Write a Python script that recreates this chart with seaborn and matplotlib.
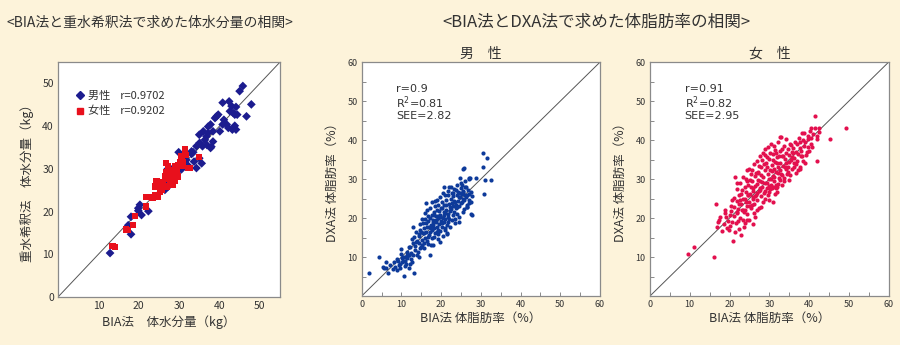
import numpy as np
import pandas as pd
import matplotlib
matplotlib.use("Agg")
import matplotlib.pyplot as plt
import seaborn as sns
from matplotlib.lines import Line2D
from matplotlib.ticker import MultipleLocator

# ---------------- data ----------------
# Panel 1: BIA vs heavy-water dilution, total body water (kg)
water_male = [
    (12.9, 10.3), (18.1, 14.7), (18.1, 18.8), (17.4, 16.8), (19.9, 20.2), (20.3, 21.6),
    (20.7, 19.2), (22.4, 20.1), (19.9, 20.8), (29.9, 33.9), (27.1, 29.9), (30.6, 31.3),
    (33.1, 33.5), (33.5, 33.9), (34.3, 30.2), (35.0, 38.0), (35.6, 31.3), (35.8, 35.3),
    (36.4, 36.8), (37.2, 38.4), (37.8, 34.9), (38.4, 36.4), (38.9, 41.9), (39.7, 42.7),
    (38.4, 38.8), (40.8, 45.5), (41.8, 40.4), (42.2, 39.6), (42.4, 45.8), (43.0, 44.7),
    (43.2, 39.2), (43.8, 42.7), (44.1, 39.2), (44.4, 42.7), (45.0, 48.2), (45.8, 49.4),
    (46.7, 42.3), (47.9, 45.1), (40.8, 40.4), (41.1, 41.5), (40.1, 38.8), (44.1, 44.5),
    (37.2, 39.9), (36.0, 38.8), (36.8, 37.6), (35.1, 36.1), (34.3, 35.3), (35.0, 32.5),
    (33.7, 31.7), (32.3, 30.7), (30.6, 29.9), (29.4, 29.0), (28.5, 27.4), (27.3, 25.9),
    (26.5, 25.1), (26.9, 26.8), (27.7, 30.2), (31.8, 32.1), (33.1, 34.1), (37.8, 40.4),
    (39.3, 42.3), (42.6, 43.5), (43.4, 43.1), (43.8, 40.1), (36.9, 35.6), (38.0, 35.2),
]
water_female = [
    (13.5, 11.9), (14.1, 11.8), (16.8, 15.8), (17.4, 15.7), (18.6, 16.8), (19.1, 19.0),
    (21.8, 21.2), (22.4, 23.5), (23.2, 23.5), (24.0, 23.9), (24.8, 23.5), (24.0, 25.9),
    (25.1, 26.6), (25.7, 25.1), (26.1, 27.0), (26.5, 28.2), (26.9, 29.2), (27.3, 27.6),
    (26.7, 31.3), (27.7, 28.6), (28.1, 29.8), (28.5, 28.2), (29.0, 30.6), (29.4, 29.4),
    (29.8, 31.0), (30.2, 31.5), (30.6, 30.6), (31.0, 31.7), (31.4, 34.6), (31.6, 33.3),
    (32.3, 30.2), (32.7, 30.2), (34.9, 32.8), (25.2, 24.7), (24.4, 27.1), (28.5, 26.3),
    (27.7, 26.3), (29.8, 28.2), (30.6, 32.9), (29.0, 27.1), (21.9, 23.5), (26.9, 25.9),
    (26.1, 25.9), (28.1, 27.4), (27.3, 30.6), (23.4, 23.1), (25.5, 26.2), (28.9, 29.6),
]
water_r_male = "0.9702"
water_r_female = "0.9202"

# Panel 2: BIA vs DXA body fat (%), men
fat_male = [
    (1.8, 5.9), (4.4, 10.1), (5.3, 7.5), (5.5, 7.1), (6.1, 8.6), (6.1, 7.2), (6.6, 6.0),
    (8.2, 8.6), (8.4, 7.5), (8.8, 6.7), (9.2, 9.0), (9.5, 7.9), (9.7, 7.3), (9.8, 12.0),
    (10.1, 9.7), (10.3, 9.1), (10.5, 9.9), (10.7, 5.1), (10.9, 9.1), (11.2, 8.2), (11.3, 9.7),
    (11.8, 7.3), (11.9, 10.5), (12.2, 12.6), (12.4, 11.1), (12.6, 8.8), (13.0, 17.6),
    (13.2, 6.0), (13.4, 11.8), (13.7, 13.9), (13.9, 10.5), (14.3, 15.4), (14.5, 9.9),
    (14.7, 16.9), (14.9, 12.6), (15.1, 14.4), (15.4, 18.8), (15.5, 16.2), (15.7, 13.5),
    (16.0, 19.7), (16.2, 23.9), (16.4, 17.8), (16.6, 15.2), (16.8, 20.5), (17.1, 16.5),
    (17.2, 10.5), (17.4, 13.1), (17.6, 24.2), (17.9, 18.2), (18.1, 20.8), (18.2, 15.2),
    (18.5, 24.4), (18.7, 19.4), (18.9, 22.1), (19.1, 16.9), (19.3, 23.3), (19.6, 13.9),
    (19.7, 20.3), (20.2, 18.6), (20.4, 26.3), (20.6, 28.0), (20.8, 21.6), (21.0, 16.9),
    (21.3, 23.3), (21.4, 16.1), (21.6, 20.3), (21.8, 25.9), (22.1, 28.0), (22.3, 22.9),
    (22.7, 26.5), (22.9, 20.8), (23.3, 24.4), (23.5, 19.7), (23.8, 27.2), (24.1, 22.9),
    (24.4, 25.3), (24.6, 19.1), (24.8, 30.2), (25.0, 29.1), (25.2, 24.2), (25.5, 26.8),
    (25.6, 32.7), (25.8, 22.2), (26.1, 28.0), (26.3, 25.5), (26.5, 23.3), (26.9, 30.2),
    (27.1, 26.2), (27.3, 30.3), (27.4, 24.2), (27.7, 20.8), (30.5, 36.8), (31.6, 35.5),
    (30.5, 33.2), (25.8, 32.9), (31.1, 29.7), (32.5, 29.7), (30.8, 26.1), (27.6, 21.0),
    (28.8, 30.2), (26.9, 29.9),
    (14.0, 14.2), (14.5, 15.8), (15.0, 16.5), (15.2, 13.0), (15.6, 17.4), (15.9, 15.0),
    (16.1, 18.6), (16.3, 16.4), (16.5, 14.1), (16.7, 19.3), (16.9, 17.8), (17.0, 15.6),
    (17.3, 20.1), (17.5, 18.3), (17.7, 16.9), (17.8, 14.9), (18.0, 19.6), (18.2, 17.4),
    (18.3, 21.5), (18.5, 16.2), (18.6, 18.9), (18.8, 20.5), (19.0, 17.7), (19.1, 15.8),
    (19.2, 19.9), (19.4, 21.9), (19.5, 18.4), (19.7, 16.7), (19.8, 20.8), (20.0, 19.3),
    (20.1, 22.6), (20.3, 17.6), (20.4, 20.1), (20.6, 23.4), (20.7, 18.9), (20.9, 21.2),
    (21.0, 19.7), (21.2, 24.6), (21.3, 22.0), (21.5, 18.2), (21.7, 21.1), (21.9, 23.7),
    (22.0, 19.8), (22.2, 21.9), (22.4, 24.9), (22.6, 22.4), (22.8, 19.4), (23.0, 23.0),
    (23.1, 25.6), (23.3, 21.5), (23.5, 24.0), (23.7, 22.7), (23.9, 25.9), (24.0, 21.0),
    (24.2, 24.4), (24.3, 26.8), (24.5, 23.2), (24.7, 25.5), (24.9, 27.6), (25.1, 23.8),
    (25.3, 26.2), (25.4, 25.0), (25.6, 27.0), (25.8, 24.7), (26.0, 26.0), (26.2, 27.9),
    (26.4, 22.8), (26.6, 25.8), (26.8, 27.2), (27.0, 23.9), (13.5, 12.9), (12.8, 13.6),
    (13.2, 15.2), (12.0, 10.4), (11.5, 11.4), (11.0, 9.9), (10.2, 8.6), (9.6, 8.2),
    (9.0, 9.6), (8.0, 7.0), (7.2, 7.9), (10.8, 7.8), (12.5, 9.6), (14.2, 11.4),
    (14.8, 18.5), (15.3, 19.8), (16.0, 21.3), (17.2, 22.6), (18.4, 23.0), (19.0, 24.7),
    (19.6, 25.3), (20.2, 24.0), (21.0, 26.0), (21.8, 27.0), (22.5, 28.0), (23.2, 27.4),
    (24.0, 28.6), (14.6, 12.2), (15.8, 12.3), (16.8, 13.4), (18.0, 13.0), (19.3, 14.6),
    (20.5, 15.3), (21.4, 16.0), (22.3, 17.6), (23.5, 18.6), (24.6, 20.3), (25.6, 21.5),
    (26.6, 22.8), (27.5, 26.8), (27.8, 25.6), (26.0, 29.6), (25.2, 28.4), (13.6, 16.3),
    (12.6, 14.7), (11.8, 12.5), (16.4, 22.1), (17.6, 20.9), (19.9, 22.5), (22.9, 26.3),
    (24.8, 26.4), (20.9, 17.4), (18.9, 16.5), (17.4, 17.5), (15.7, 16.1), (14.4, 13.5),
    (13.0, 10.5), (12.2, 8.3), (11.4, 10.6), (9.9, 10.8), (21.6, 19.0), (22.7, 23.8),
    (23.8, 23.4), (26.9, 24.6), (17.9, 19.0), (19.2, 20.4), (20.8, 20.9),
]
fat_male_stats = ["r=0.9", "R$^2$=0.81", "SEE=2.82"]

# Panel 3: BIA vs DXA body fat (%), women
fat_female = [
    (9.6, 10.9), (11.1, 12.6), (16.1, 10.1), (49.3, 43.2), (21.8, 28.9), (42.6, 43.0),
    (39.9, 37.2), (37.7, 32.7), (40.4, 43.0), (17.2, 19.1), (30.8, 24.0),
    (41.5, 46.2), (16.5, 23.5), (20.9, 14.2), (22.8, 15.6), (25.8, 18.4), (32.7, 40.7),
    (34.2, 40.2), (38.1, 41.7), (42.1, 40.2), (45.3, 40.4), (41.9, 34.6), (37.3, 32.3),
    (30.6, 27.6), (31.9, 27.9), (21.4, 30.6), (20.5, 24.6), (18.9, 22.1), (17.6, 20.3),
    (16.8, 17.8), (19.3, 17.4), (23.5, 22.1), (26.0, 25.0), (28.1, 34.9), (28.9, 36.2),
    (31.4, 37.4), (35.2, 39.1), (36.0, 36.6), (39.8, 38.3), (39.0, 34.0), (34.0, 33.2),
    (32.3, 31.5), (29.3, 28.9), (27.7, 27.2), (24.7, 25.9), (22.6, 24.6), (21.8, 21.2),
    (24.3, 19.5), (26.8, 22.1), (29.8, 24.6), (27.2, 31.5), (25.1, 29.7), (24.3, 32.3),
    (20.0, 20.8), (20.6, 19.0), (21.2, 22.9), (21.5, 18.6), (22.0, 21.5), (22.3, 25.8),
    (22.7, 20.1), (23.0, 23.6), (23.2, 27.2), (23.5, 19.6), (23.8, 24.8), (24.0, 22.0),
    (24.2, 26.6), (24.5, 21.0), (24.7, 28.4), (25.0, 24.0), (25.2, 26.2), (25.4, 22.6),
    (25.6, 29.5), (25.8, 25.4), (26.0, 27.6), (26.2, 23.6), (26.4, 30.7), (26.6, 26.0),
    (26.8, 28.8), (27.0, 24.5), (27.2, 31.8), (27.4, 27.0), (27.6, 29.6), (27.8, 25.6),
    (28.0, 33.0), (28.2, 28.0), (28.4, 30.6), (28.6, 26.4), (28.8, 32.2), (29.0, 29.0),
    (29.2, 34.0), (29.4, 27.6), (29.6, 31.2), (29.8, 29.9), (30.0, 35.2), (30.2, 32.4),
    (30.4, 28.6), (30.6, 33.6), (30.8, 30.8), (31.0, 36.3), (31.2, 29.4), (31.4, 34.4),
    (31.6, 31.8), (31.8, 27.8), (32.0, 35.6), (32.2, 33.0), (32.4, 30.2), (32.6, 37.2),
    (32.8, 34.2), (33.0, 31.4), (33.2, 36.0), (33.4, 33.4), (33.6, 38.4), (33.8, 29.6),
    (34.0, 35.2), (34.3, 32.6), (34.6, 37.6), (34.9, 34.4), (35.2, 31.0), (35.5, 38.8),
    (35.8, 35.6), (36.1, 33.0), (36.4, 39.6), (36.7, 37.0), (37.0, 34.6), (37.4, 40.6),
    (37.8, 38.0), (38.2, 35.8), (38.6, 41.8), (39.0, 39.4), (39.4, 37.0), (39.8, 41.0),
    (40.2, 42.2), (40.6, 39.0), (41.0, 41.6), (41.5, 43.2), (42.0, 41.0), (42.6, 42.0),
    (37.6, 33.2), (36.6, 31.6), (35.0, 29.8), (33.2, 28.4), (31.5, 26.2), (30.0, 26.8),
    (28.5, 24.2), (27.3, 22.6), (26.1, 21.2), (24.9, 19.4), (23.6, 17.8), (22.4, 17.2),
    (21.4, 16.4), (19.8, 17.0), (18.6, 18.5), (19.0, 20.2), (18.2, 16.6), (17.4, 19.4),
    (20.4, 23.0), (21.0, 25.2), (21.8, 27.4), (22.6, 28.9), (23.4, 30.4), (24.1, 30.0),
    (24.8, 32.6), (25.5, 31.4), (26.2, 33.8), (26.9, 34.6), (27.6, 35.8), (28.3, 36.8),
    (29.0, 37.8), (29.7, 38.2), (30.5, 39.0), (31.3, 38.6), (32.1, 39.6), (32.9, 40.8),
    (27.9, 31.0), (28.7, 33.8), (29.5, 33.0), (30.3, 30.0), (31.1, 32.6), (31.9, 34.0),
    (32.7, 32.2), (33.5, 35.8), (34.2, 36.8), (35.0, 36.2), (35.7, 37.0), (36.3, 35.4),
    (37.1, 36.4), (38.0, 37.2), (38.8, 38.6), (39.6, 40.2), (40.4, 40.6), (26.5, 28.3),
    (25.9, 27.0), (25.3, 28.0), (24.6, 26.0), (24.1, 24.0), (23.7, 21.6), (23.1, 22.0),
    (22.5, 23.6), (21.9, 24.4), (21.1, 20.6), (20.3, 21.9), (19.6, 19.2), (18.9, 21.2),
    (27.1, 29.8), (27.7, 27.8), (28.9, 27.0), (29.9, 28.2), (30.9, 35.0), (31.7, 36.6),
    (32.5, 36.0), (33.3, 37.6), (34.1, 34.0), (34.8, 33.0), (35.4, 34.8), (36.0, 38.0),
    (36.9, 39.0), (37.7, 39.4), (38.5, 40.0), (26.7, 31.6), (25.7, 32.2), (24.5, 29.4),
    (23.9, 28.0), (22.9, 26.2), (22.1, 22.4), (29.3, 35.6), (30.1, 36.8), (30.7, 32.0),
    (31.3, 30.6), (32.3, 28.8), (33.1, 31.0), (28.1, 29.2), (27.5, 33.4), (26.3, 25.6),
    (25.1, 23.0), (24.3, 23.2), (23.3, 25.0),
    (28.8, 25.0), (30.2, 27.4), (31.6, 28.6), (32.8, 29.8), (34.4, 31.2), (35.6, 32.6),
    (36.8, 33.8), (38.4, 34.6), (33.6, 30.2), (29.6, 26.0), (27.0, 26.4), (25.6, 23.4),
    (31.0, 28.0), (34.8, 31.8), (36.2, 34.2), (37.9, 36.0), (39.2, 36.2), (40.8, 38.2),
    (26.4, 20.2), (24.0, 18.6), (22.2, 19.2), (20.2, 18.0), (28.0, 22.8), (32.0, 26.6),
]
fat_female_stats = ["r=0.91", "R$^2$=0.82", "SEE=2.95"]

title_left = "<BIA法と重水希釈法で求めた体水分量の相関>"
title_right = "<BIA法とDXA法で求めた体脂肪率の相関>"
sub_male = "男　性"
sub_female = "女　性"
label_sex = ["男性", "女性"]

# ---------------- style ----------------
BG = "#FDF3DA"
sns.set_theme(style="white")
plt.rcParams["font.family"] = ["Noto Sans CJK JP", "DejaVu Sans"]
plt.rcParams["mathtext.fontset"] = "dejavusans"

fig = plt.figure(figsize=(9, 3.45), dpi=100)
fig.patch.set_facecolor(BG)

FRAME = "#8a8a8a"
TXT = "#333333"


def frame(ax):
    ax.set_facecolor("white")
    for s in ax.spines.values():
        s.set_visible(True)
        s.set_color(FRAME)
        s.set_linewidth(0.9)


# ---- Panel 1 ----
ax1 = fig.add_axes([0.0644, 0.139, 0.2467, 0.681])
frame(ax1)
df_w = pd.concat([
    pd.DataFrame(water_male, columns=["bia", "d2o"]).assign(sex=label_sex[0]),
    pd.DataFrame(water_female, columns=["bia", "d2o"]).assign(sex=label_sex[1]),
])
pal1 = {label_sex[0]: "#1c1c8f", label_sex[1]: "#e8101c"}
mk1 = {label_sex[0]: "D", label_sex[1]: "s"}
sns.scatterplot(data=df_w, x="bia", y="d2o", hue="sex", style="sex", palette=pal1,
                markers=mk1, s=20, linewidth=0, ax=ax1, legend=False, zorder=3)
ax1.axline((0, 0), slope=1, color="#555555", lw=0.7, zorder=2)
ax1.set_xlim(0, 55)
ax1.set_ylim(0, 55)
ax1.set_xticks([10, 20, 30, 40, 50])
ax1.set_yticks([0, 10, 20, 30, 40, 50])
ax1.tick_params(length=0, labelsize=7.5, labelcolor=TXT, pad=3)
ax1.set_xlabel("BIA法　体水分量（kg）", fontsize=9, color=TXT, labelpad=3)
ax1.set_ylabel("重水希釈法　体水分量（kg）", fontsize=9, color=TXT, labelpad=6)
handles = [
    Line2D([], [], marker="D", color=pal1[label_sex[0]], lw=0, markersize=4.2),
    Line2D([], [], marker="s", color=pal1[label_sex[1]], lw=0, markersize=4.2),
]
ax1.legend(handles, [f"{label_sex[0]}    r={water_r_male}", f"{label_sex[1]}    r={water_r_female}"],
           loc="upper left", bbox_to_anchor=(0.03, 0.92), frameon=False, fontsize=8,
           handletextpad=0.2, handlelength=1.0, labelspacing=0.45, labelcolor=TXT)


def fat_panel(rect, pts, color, stats, sub):
    ax = fig.add_axes(rect)
    frame(ax)
    d = pd.DataFrame(pts, columns=["bia", "dxa"])
    sns.scatterplot(data=d, x="bia", y="dxa", color=color, s=9, linewidth=0,
                    ax=ax, zorder=3)
    ax.axline((0, 0), slope=1, color="#555555", lw=0.7, zorder=2)
    ax.set_xlim(0, 60)
    ax.set_ylim(0, 60)
    ax.set_xticks(range(0, 61, 10))
    ax.set_yticks(range(10, 61, 10))
    ax.xaxis.set_minor_locator(MultipleLocator(5))
    ax.yaxis.set_minor_locator(MultipleLocator(5))
    ax.tick_params(which="both", direction="in", length=3, width=0.7, color=FRAME,
                   bottom=True, left=True)
    ax.tick_params(which="major", labelsize=6.5, labelcolor=TXT, pad=3)
    ax.set_xlabel("BIA法 体脂肪率（%）", fontsize=9, color=TXT, labelpad=2)
    ax.set_ylabel("DXA法 体脂肪率（%）", fontsize=9, color=TXT, labelpad=6)
    ax.set_title(sub, fontsize=10, color=TXT, pad=3)
    for i, s in enumerate(stats):
        ax.text(0.145, 0.885 - i * 0.057, s, transform=ax.transAxes, fontsize=8,
                color=TXT, va="center", ha="left", family=["DejaVu Sans"])
    return ax


fat_panel([0.4019, 0.142, 0.2648, 0.678], fat_male, "#0d3a9a", fat_male_stats, sub_male)
fat_panel([0.7222, 0.142, 0.2652, 0.678], fat_female, "#e3104e", fat_female_stats, sub_female)

fig.text(0.167, 0.935, title_left, fontsize=10, color=TXT, ha="center", va="center")
fig.text(0.663, 0.935, title_right, fontsize=12, color=TXT, ha="center", va="center")

fig.savefig("out.png", dpi=100, facecolor=BG)
